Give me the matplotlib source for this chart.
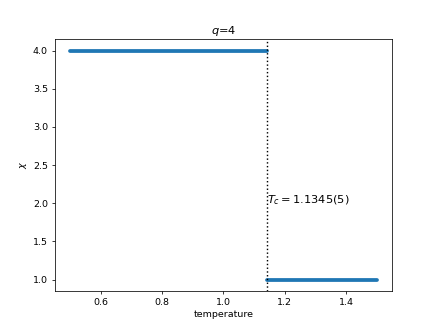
import matplotlib
matplotlib.use('Agg')
import matplotlib.pyplot as plt

q = 4
tc = 1.142
tc_label = r'$T_c = 1.1345(5)$'
t_low = [0.5, 1.142]
chi_low = [4.0, 4.0]
t_high = [1.142, 1.5]
chi_high = [1.0, 1.0]

fig = plt.figure(figsize=(6.4, 4.8), dpi=68.125)
ax = fig.add_subplot(111)
ax.plot(t_low, chi_low, c='C0', lw=4, solid_capstyle='round')
ax.plot(t_high, chi_high, c='C0', lw=4, solid_capstyle='round')
ax.axvline(tc, color='k', linestyle=':')
ax.text(tc, 2.0, tc_label, ha='left', fontsize=12)
ax.set_xlabel('temperature')
ax.set_ylabel(r'$\chi$')
ax.set_title(r'$q$=%d' % q)
fig.savefig('out.png', dpi=68.125)
